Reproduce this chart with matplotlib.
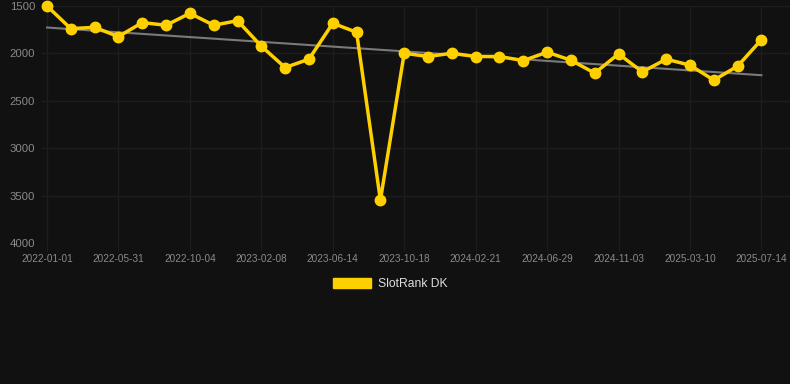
import numpy as np
import matplotlib.pyplot as plt
from matplotlib.patches import Patch

plt.rcParams['font.family'] = ['Liberation Sans', 'DejaVu Sans']

# rank per sample (31 samples, roughly every 6 weeks)
rango = [1500, 1739, 1725, 1823, 1675, 1703, 1577, 1703, 1655, 1924,
         2149, 2061, 1682, 1777, 3549, 1998, 2033, 1998, 2033, 2033,
         2076, 1987, 2072, 2208, 2005, 2195, 2061, 2124, 2282, 2135,
         1855]
# labels shown on every third sample
etiquetas = ['2022-01-01', '2022-05-31', '2022-10-04', '2023-02-08',
             '2023-06-14', '2023-10-18', '2024-02-21', '2024-06-29',
             '2024-11-03', '2025-03-10', '2025-07-14']
y_ticks = [1500, 2000, 2500, 3000, 3500, 4000]

FONDO = '#111111'
AMARILLO = '#FFD000'
GRILLA = '#1d1d1d'
TEXTO = '#8a8a8a'


def graficar():
    fig = plt.figure(figsize=(7.9, 3.84), dpi=100, facecolor=FONDO)
    ax = fig.add_axes([42 / 790, 1 - 243 / 384, 1 - 42 / 790, 237 / 384])
    ax.set_facecolor(FONDO)

    x = np.arange(len(rango))
    # tendencia lineal
    m, b = np.polyfit(x, rango, 1)
    ax.plot(x, m * x + b, color='#7a7a7a', lw=1.5, zorder=2)

    ax.plot(x, rango, color=AMARILLO, lw=2.5, marker='o', ms=7.5,
            zorder=3, clip_on=False)

    ax.set_ylim(4000, 1500)
    ax.set_xlim(-0.21, 31.2)
    ax.set_yticks(y_ticks)
    ax.set_xticks(x[::3])
    ax.set_xticklabels(etiquetas)

    ax.grid(True, color=GRILLA, lw=1)
    for s in ax.spines.values():
        s.set_visible(False)
    ax.tick_params(axis='y', length=0, pad=5, labelsize=8.2, labelcolor=TEXTO)
    ax.tick_params(axis='x', length=6, color=GRILLA, pad=2, labelsize=7.2,
                   labelcolor=TEXTO)

    fig.legend(handles=[Patch(facecolor=AMARILLO, edgecolor=AMARILLO)],
               labels=['SlotRank DK'], loc='center', bbox_to_anchor=(390 / 790, 1 - 284 / 384),
               frameon=False, fontsize=8.7, labelcolor='#dddddd',
               handlelength=3.2, handleheight=0.9, handletextpad=0.55)

    fig.savefig('out.png', dpi=100, facecolor=FONDO)


if __name__ == '__main__':
    graficar()
